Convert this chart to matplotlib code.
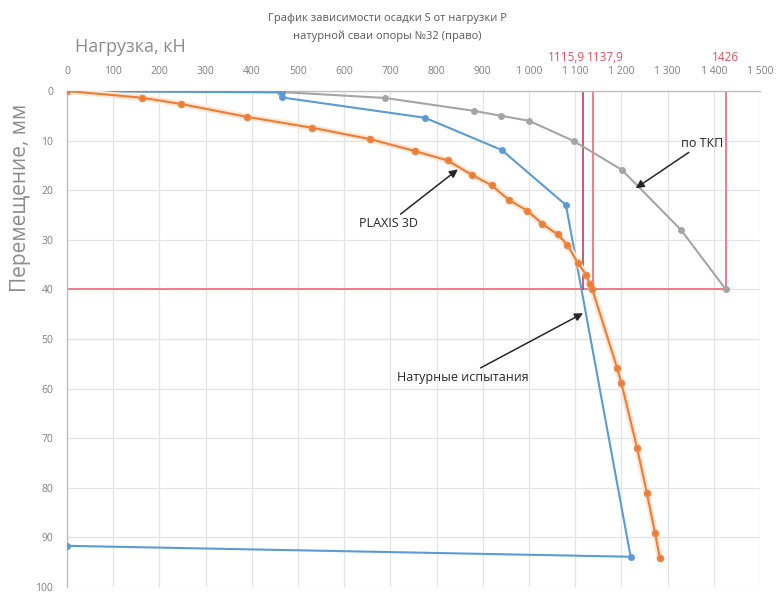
import matplotlib
matplotlib.use("Agg")
import matplotlib.pyplot as plt
import matplotlib.patheffects as pe

plt.rcParams['font.family'] = ['Open Sans', 'DejaVu Sans']

# ---- data (load P, kN ; settlement S, mm) ----
tkp_load = [0, 462, 688, 881, 939, 1000, 1097, 1201, 1329, 1426]
tkp_s = [0, 0.2, 1.4, 4.0, 5.0, 6.0, 10.1, 15.9, 28.0, 40.0]

test_load = [0, 465, 465, 775, 941, 1080, 1220, 0]
test_s = [0, 0.3, 1.3, 5.4, 11.9, 23.0, 93.9, 91.7]

plaxis_load = [0, 162, 246, 389, 530, 656, 753, 824, 876, 919, 957, 996,
               1029, 1062, 1083, 1106, 1124, 1131, 1137, 1191, 1200, 1234,
               1255, 1273, 1283]
plaxis_s = [0, 1.35, 2.6, 5.2, 7.4, 9.7, 12.1, 14.0, 16.9, 19.0, 22.0, 24.1,
            26.8, 28.9, 31.0, 34.7, 37.1, 38.9, 40.0, 55.9, 58.9, 72.0,
            81.0, 89.2, 94.1]

ref_loads = [1115.9, 1137.9, 1426]
ref_labels = ["1115,9", "1137,9", "1426"]
ref_s = 40

x_ticks = list(range(0, 1501, 100))
x_tick_labels = ["0", "100", "200", "300", "400", "500", "600", "700", "800",
                 "900", "1 000", "1 100", "1 200", "1 300", "1 400", "1 500"]
y_ticks = list(range(0, 101, 10))

# ---- figure ----
fig = plt.figure(figsize=(7.8, 5.97), dpi=100)
ax = fig.add_axes([67/780, 1 - 587/597, (760-67)/780, (587-91)/597])

ax.set_xlim(0, 1500)
ax.set_ylim(100, 0)
ax.xaxis.tick_top()
ax.set_xticks(x_ticks)
ax.set_xticklabels(x_tick_labels)
ax.set_yticks(y_ticks)
ax.tick_params(axis='both', length=0, labelsize=7.5, colors='#7f7f7f')
ax.tick_params(axis='x', pad=10)
ax.tick_params(axis='y', pad=10)
ax.grid(True, color='#e3e3e3', linewidth=0.9)
ax.set_axisbelow(True)
for side in ['right', 'bottom']:
    ax.spines[side].set_visible(False)
for side in ['top', 'left']:
    ax.spines[side].set_color('#bfbfbf')
    ax.spines[side].set_linewidth(1.0)

# reference red lines
red = '#f07c88'
ax.plot([0, ref_loads[2]], [ref_s, ref_s], color=red, lw=1.4, zorder=2)
ax.plot([ref_loads[0], ref_loads[0]], [0, ref_s], color='#b8323f', lw=1.1, zorder=2)
ax.plot([ref_loads[1], ref_loads[1]], [0, ref_s], color=red, lw=1.4, zorder=2)
ax.plot([ref_loads[2], ref_loads[2]], [0, ref_s], color=red, lw=1.4, zorder=2)

lab_tr = ax.get_xaxis_transform()
ax.text(ref_loads[0] + 5, 1.068, ref_labels[0], transform=lab_tr, ha='right',
        va='center', color='#e0505e', fontsize=8.5, clip_on=False)
ax.text(ref_loads[1] - 12, 1.068, ref_labels[1], transform=lab_tr, ha='left',
        va='center', color='#e0505e', fontsize=8.5, clip_on=False)
ax.text(ref_loads[2], 1.068, ref_labels[2], transform=lab_tr, ha='center',
        va='center', color='#e0505e', fontsize=8.5, clip_on=False)

# series
ax.plot(tkp_load, tkp_s, color='#a5a5a5', lw=1.5, marker='o', ms=4, zorder=3)
ax.plot(test_load, test_s, color='#5b9bd5', lw=1.5, marker='o', ms=4, zorder=4)
ax.plot(plaxis_load, plaxis_s, color='#fbe6d8', lw=4.5, zorder=4.5,
        solid_capstyle='round')
ax.plot(plaxis_load, plaxis_s, color='#ed7d31', lw=1.5, marker='o', ms=4.5,
        markeredgecolor='#e98a4e', zorder=5)

# annotations
arrow = dict(arrowstyle='-|>', color='#262626', lw=1.1, mutation_scale=12,
             shrinkA=0, shrinkB=0)
ax.annotate('по ТКП', xy=(1231, 19.6), xytext=(1330, 10.5), fontsize=9,
            color='#262626', ha='left', va='center', arrowprops=arrow)
ax.annotate('PLAXIS 3D', xy=(846, 15.8), xytext=(760, 26.7), fontsize=9,
            color='#262626', ha='right', va='center', arrowprops=arrow)
ax.annotate('Натурные испытания', xy=(1117, 44.8), xytext=(1000, 57.7),
            fontsize=9, color='#262626', ha='right', va='center',
            arrowprops=arrow)

# titles
fig.text(0.497, 1 - 18/597, 'График зависимости осадки S от нагрузки P',
         ha='center', va='center', fontsize=8, color='#595959')
fig.text(0.497, 1 - 36/597, 'натурной сваи опоры №32 (право)',
         ha='center', va='center', fontsize=8, color='#595959')
fig.text(75/780, 1 - 47/597, 'Нагрузка, кН', ha='left', va='center',
         fontsize=13, color='#8c8c8c')
fig.text(21/780, 1 - 198/597, 'Перемещение, мм', ha='center', va='center',
         rotation=90, fontsize=15, color='#8c8c8c')

fig.savefig('out.png', dpi=100)
